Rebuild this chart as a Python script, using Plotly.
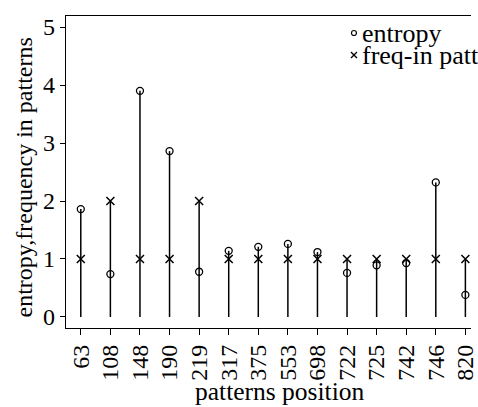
import plotly.graph_objects as go

positions = ["63", "108", "148", "190", "219", "317", "375", "553", "698", "722", "725", "742", "746", "820"]
entropy = [1.86, 0.74, 3.90, 2.86, 0.78, 1.14, 1.21, 1.26, 1.12, 0.76, 0.89, 0.93, 2.32, 0.38]
freq_in_patterns = [1, 2, 1, 1, 2, 1, 1, 1, 1, 1, 1, 1, 1, 1]
y_ticks = [0, 1, 2, 3, 4, 5]

FONT = "Liberation Serif"

# stems from 0 to the larger of the two values
stem_x, stem_y = [], []
for p, e, f in zip(positions, entropy, freq_in_patterns):
    stem_x += [p, p, None]
    stem_y += [0, max(e, f), None]

fig = go.Figure()
fig.add_trace(go.Scatter(x=stem_x, y=stem_y, mode="lines",
                         line=dict(color="black", width=1.5), showlegend=False, hoverinfo="skip"))
fig.add_trace(go.Scatter(x=positions, y=entropy, mode="markers", name="entropy",
                         marker=dict(symbol="circle-open", size=7, color="black", line=dict(width=1.3)),
                         showlegend=False))
fig.add_trace(go.Scatter(x=positions, y=freq_in_patterns, mode="markers", name="freq-in patterns",
                         marker=dict(symbol="x-thin-open", size=8, color="black", line=dict(width=1.5)),
                         showlegend=False))

# legend markers on an overlay axis (paper-like coordinates)
legend_x = [0.711, 0.711]
legend_y = [0.9455, 0.875]
fig.add_trace(go.Scatter(x=[legend_x[0]], y=[legend_y[0]], xaxis="x2", yaxis="y2", mode="markers",
                         marker=dict(symbol="circle-open", size=5, color="black", line=dict(width=1.2)),
                         showlegend=False, hoverinfo="skip"))
fig.add_trace(go.Scatter(x=[legend_x[1]], y=[legend_y[1]], xaxis="x2", yaxis="y2", mode="markers",
                         marker=dict(symbol="x-thin-open", size=6, color="black", line=dict(width=1.3)),
                         showlegend=False, hoverinfo="skip"))

for txt, yy in zip(["entropy", "freq-in patterns"], legend_y):
    fig.add_annotation(x=0.7257, y=yy, xref="paper", yref="paper", text=txt, showarrow=False,
                       xanchor="left", yanchor="middle", font=dict(family=FONT, size=26, color="black"))

# axis titles (plot box of the reference runs past the right edge, so titles are placed explicitly)
fig.add_annotation(x=0.528, y=-0.204, xref="paper", yref="paper", text="patterns position",
                   showarrow=False, xanchor="center", yanchor="middle",
                   font=dict(family=FONT, size=25.5, color="black"))
fig.add_annotation(x=-0.104, y=0.482, xref="paper", yref="paper", text="entropy,frequency in patterns",
                   showarrow=False, xanchor="center", yanchor="middle", textangle=-90,
                   font=dict(family=FONT, size=24, color="black"))

fig.update_layout(
    width=478, height=407,
    margin=dict(l=66, r=0, t=16, b=79),
    paper_bgcolor="white", plot_bgcolor="white",
    font=dict(family=FONT, size=24, color="black"),
    xaxis=dict(type="category", categoryorder="array", categoryarray=positions,
               range=[-0.5, 13.19], showline=True, linecolor="black", linewidth=1.3, mirror=True,
               ticks="outside", ticklen=6, tickcolor="black", tickwidth=1.3, tickangle=-90,
               showgrid=False, zeroline=False,
               tickfont=dict(family=FONT, size=24, color="black")),
    yaxis=dict(range=[-0.19, 5.19], tickvals=y_ticks, showline=True, linecolor="black", linewidth=1.3,
               ticks="outside", ticklen=5, tickcolor="black", tickwidth=1.3,
               showgrid=False, zeroline=False,
               tickfont=dict(family=FONT, size=24, color="black")),
    xaxis2=dict(overlaying="x", range=[0, 1], visible=False, domain=[0, 1]),
    yaxis2=dict(overlaying="y", range=[0, 1], visible=False),
)

fig.write_html("out.html")
